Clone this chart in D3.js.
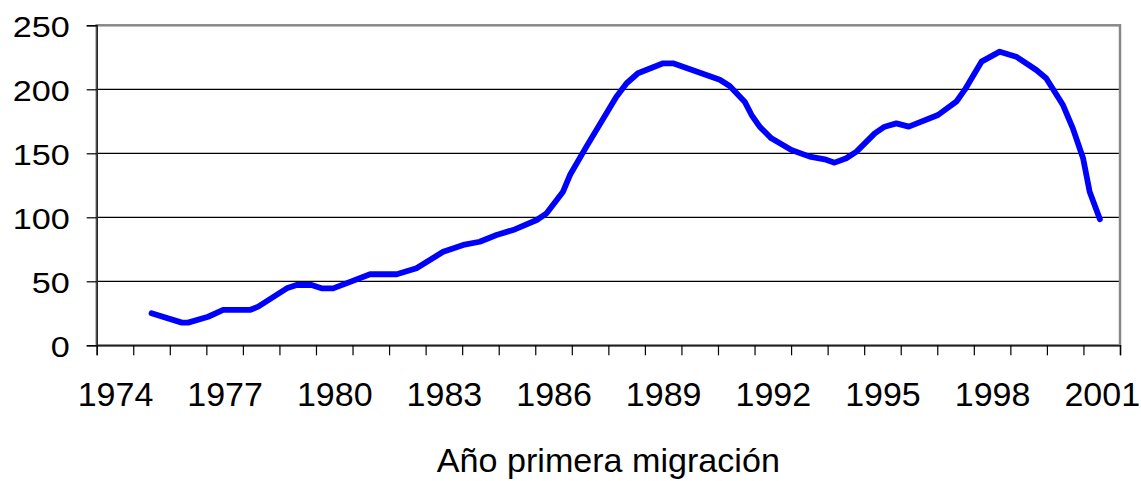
<!DOCTYPE html>
<html>
<head>
<meta charset="utf-8">
<script src="https://cdn.jsdelivr.net/npm/d3@7"></script>
<style>
  html, body { margin: 0; padding: 0; background: #fff; }
  svg { display: block; }
</style>
</head>
<body>
<svg id="chart" width="1141" height="481"></svg>
<script>
// ---- data ----
const years = [
  1975.50, 1976.33, 1976.50, 1977.05, 1977.46, 1978.19, 1978.42, 1979.20, 1979.47, 1979.88,
  1980.15, 1980.47, 1981.48, 1982.21, 1982.75, 1983.48, 1984.03, 1984.48, 1984.94, 1985.44,
  1986.04, 1986.31, 1986.76, 1986.95, 1987.40, 1988.22, 1988.50, 1988.81, 1989.50, 1989.77,
  1991.05, 1991.32, 1991.73, 1991.92, 1992.14, 1992.46, 1993.01, 1993.51, 1993.92, 1994.19,
  1994.51, 1994.79, 1995.29, 1995.56, 1995.88, 1996.22, 1997.02, 1997.52, 1997.75, 1998.21,
  1998.71, 1999.16, 1999.71, 1999.98, 2000.44, 2000.71, 2000.99, 2001.17, 2001.45
];
const values = [
  25.0, 17.7, 17.7, 22.3, 27.6, 27.6, 30.2, 44.5, 47.1, 47.1,
  44.5, 44.5, 55.5, 55.5, 60.2, 73.1, 78.4, 80.9, 86.2, 90.5,
  97.9, 103.1, 120.0, 133.0, 155.2, 194.2, 204.7, 212.5, 220.3, 220.3,
  207.5, 202.6, 190.3, 179.9, 170.8, 161.7, 152.6, 147.4, 145.3, 142.7,
  146.1, 151.3, 165.6, 170.8, 173.4, 170.8, 179.9, 190.3, 199.5, 221.6,
  229.4, 225.5, 215.1, 208.6, 187.7, 169.5, 146.1, 120.0, 98.5
];
const yTicks = [0, 50, 100, 150, 200, 250];
const xLabelYears = [1974, 1977, 1980, 1983, 1986, 1989, 1992, 1995, 1998, 2001];
const xTickYears = d3.range(1974, 2003);
const xTitle = "Año primera migración";

// ---- layout ----
const L = 96.7, R = 1120, T = 25.3, B = 345.3;
const svg = d3.select("#chart");
const x = d3.scaleLinear().domain([1974, 2002]).range([L, R]);
const y = d3.scaleLinear().domain([0, 250]).range([B, T]);
const font = "'Liberation Sans', Arial, sans-serif";

// gridlines
svg.append("g")
  .selectAll("line")
  .data(yTicks.filter(v => v > 0 && v < 250))
  .join("line")
  .attr("x1", L).attr("x2", R)
  .attr("y1", d => y(d)).attr("y2", d => y(d))
  .attr("stroke", "#000").attr("stroke-width", 1.2);

// plot border (gray)
svg.append("rect")
  .attr("x", L).attr("y", T).attr("width", R - L).attr("height", B - T)
  .attr("fill", "none").attr("stroke", "#888").attr("stroke-width", 2.5);

// y axis
const yAxis = svg.append("g")
  .attr("transform", `translate(${L},0)`)
  .call(d3.axisLeft(y).tickValues(yTicks).tickSize(10).tickPadding(17));
yAxis.select(".domain").attr("stroke", "#222").attr("stroke-width", 1.5);
yAxis.selectAll(".tick line").attr("stroke", "#000").attr("stroke-width", 1.2);
yAxis.selectAll(".tick text")
  .attr("x", null).attr("dy", null)
  .attr("transform", "translate(-27,10.8) scale(1.14,1)")
  .attr("font-family", font).attr("font-size", 30).attr("fill", "#000");

// x axis ticks
const xAxis = svg.append("g")
  .attr("transform", `translate(0,${B})`)
  .call(d3.axisBottom(x).tickValues(xTickYears).tickSize(10).tickFormat(""));
xAxis.select(".domain").attr("stroke", "#222").attr("stroke-width", 1.5);
xAxis.selectAll(".tick line").attr("stroke", "#000").attr("stroke-width", 1.2);

// x axis labels (centered in each year's slot)
const xLab = svg.append("g")
  .attr("transform", `translate(0,${B})`)
  .call(d3.axisBottom(x).tickValues(xLabelYears.map(v => v + 0.5))
        .tickSize(0).tickPadding(0).tickFormat(d => String(Math.round(d - 0.5))));
xLab.select(".domain").remove();
xLab.selectAll(".tick text")
  .attr("y", 61).attr("dy", null)
  .attr("font-family", font).attr("font-size", 34).attr("fill", "#000");

// line
const line = d3.line().x((d, i) => x(years[i])).y(d => y(d));
svg.append("path")
  .datum(values)
  .attr("d", line)
  .attr("fill", "none")
  .attr("stroke", "#0000ff")
  .attr("stroke-width", 5.8)
  .attr("stroke-linejoin", "round")
  .attr("stroke-linecap", "round");

// x title
svg.append("text")
  .attr("x", (L + R) / 2).attr("y", 472)
  .attr("text-anchor", "middle")
  .attr("font-family", font).attr("font-size", 32.5).attr("fill", "#000")
  .attr("textLength", 343).attr("lengthAdjust", "spacingAndGlyphs")
  .text(xTitle);
</script>
</body>
</html>
